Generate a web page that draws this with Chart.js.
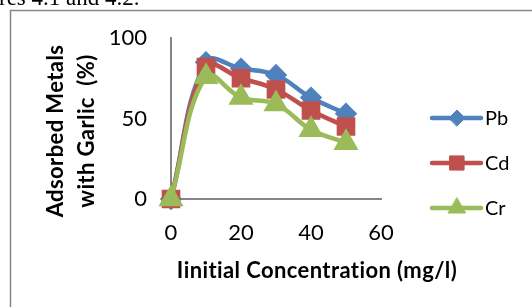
<!DOCTYPE html>
<html>
<head>
<meta charset="utf-8">
<script src="https://cdn.jsdelivr.net/npm/chart.js@4/dist/chart.umd.min.js"></script>
<style>
  html, body { margin: 0; padding: 0; background: #fff; }
  #wrap { width: 532px; height: 307px; }
</style>
</head>
<body>
<div id="wrap"><canvas id="canvas-1" width="532" height="307"></canvas></div>
<script>
'use strict';

// values
var concentrations = [0, 10, 20, 30, 40, 50];
var pbValues = [0, 85, 81, 77, 63, 53];
var cdValues = [0, 82, 75, 68, 55, 45];
var crValues = [0, 76, 63, 59, 43, 35];
var xTicks = [0, 20, 40, 60];
var yTicks = [0, 50, 100];
var seriesNames = ['Pb', 'Cd', 'Cr'];

var colors = ['#4F81BD', '#C0504D', '#9BBB59'];
var styles = ['rectRot', 'rect', 'triangle'];
var radii = [8, 10, 10];
var font = 'Lato, "Open Sans", sans-serif';

function toPoints(vals) {
  return vals.map(function(v, i) { return { x: concentrations[i], y: v }; });
}

var extras = {
  id: 'extras',
  beforeDraw: function(chart) {
    var ctx = chart.ctx;
    ctx.save();
    ctx.fillStyle = '#fff';
    ctx.fillRect(0, 0, chart.width, chart.height);
    // caption left over from the page above
    ctx.fillStyle = '#000';
    ctx.font = '23px "Liberation Serif", serif';
    ctx.textBaseline = 'alphabetic';
    ctx.textAlign = 'left';
    ctx.fillText('res 4.1 and 4.2.', -1, 5);
    // chart frame
    ctx.strokeStyle = '#868686';
    ctx.lineWidth = 1.5;
    ctx.strokeRect(10.5, 10.5, 700, 500);
    ctx.restore();
  },
  afterDraw: function(chart) {
    var ctx = chart.ctx;
    ctx.save();
    ctx.fillStyle = '#000';
    ctx.font = 'bold 22px ' + font;
    ctx.letterSpacing = '0.4px';
    ctx.textAlign = 'center';
    ctx.textBaseline = 'middle';
    ctx.fillText('Iinitial Concentration (mg/l)', 317, 271);
    ctx.translate(56, 131);
    ctx.rotate(-Math.PI / 2);
    ctx.fillText('Adsorbed Metals', 0, 0);
    ctx.fillText('with Garlic  (%)', 0, 31);
    ctx.restore();

    // legend
    ctx.save();
    chart.data.datasets.forEach(function(ds, i) {
      var y = 118 + i * 45;
      ctx.strokeStyle = ds.borderColor;
      ctx.lineWidth = 4.5;
      ctx.lineCap = 'round';
      ctx.beginPath();
      ctx.moveTo(432, y);
      ctx.lineTo(481, y);
      ctx.stroke();
      ctx.fillStyle = ds.pointBackgroundColor;
      ctx.strokeStyle = ds.pointBorderColor;
      ctx.lineWidth = 1;
      Chart.helpers.drawPoint(ctx, { pointStyle: ds.pointStyle, radius: ds.pointRadius, borderWidth: 1, rotation: 0 }, 457, y);
      ctx.fillStyle = '#000';
      ctx.font = '20px ' + font;
      ctx.textAlign = 'left';
      ctx.textBaseline = 'middle';
      ctx.fillText(ds.label, 485, y + 1);
    });
    ctx.restore();
  }
};

var allValues = [pbValues, cdValues, crValues];
var datasets = seriesNames.map(function(name, i) {
  return {
    label: name,
    data: toPoints(allValues[i]),
    borderColor: colors[i],
    backgroundColor: colors[i],
    pointBackgroundColor: colors[i],
    pointBorderColor: colors[i],
    pointStyle: styles[i],
    pointRadius: radii[i],
    pointHoverRadius: radii[i],
    borderWidth: 4.5,
    tension: 0.4,
    clip: false,
    order: 3 - i
  };
});

var ctx = document.getElementById('canvas-1');
var chart = new Chart(ctx, {
  type: 'line',
  data: { datasets: datasets },
  plugins: [extras],
  options: {
    responsive: false,
    animation: false,
    layout: { padding: { left: 0, top: 38, right: 151, bottom: 0 } },
    plugins: {
      legend: { display: false },
      tooltip: { enabled: false }
    },
    scales: {
      x: {
        type: 'linear',
        min: 0,
        max: 60,
        afterFit: function(scale) { scale.height = 108; },
        afterBuildTicks: function(scale) {
          scale.ticks = xTicks.map(function(v) { return { value: v }; });
        },
        grid: { display: false, drawTicks: false },
        border: { display: true, color: '#868686', width: 2 },
        ticks: { color: '#000', padding: 21, font: { family: font, size: 22 } }
      },
      y: {
        min: 0,
        max: 100,
        afterFit: function(scale) { scale.width = 171; },
        afterBuildTicks: function(scale) {
          scale.ticks = yTicks.map(function(v) { return { value: v }; });
        },
        grid: { display: false, drawTicks: false },
        border: { display: true, color: '#868686', width: 2 },
        ticks: { color: '#000', padding: 24, font: { family: font, size: 22 } }
      }
    }
  }
});
</script>
</body>
</html>
